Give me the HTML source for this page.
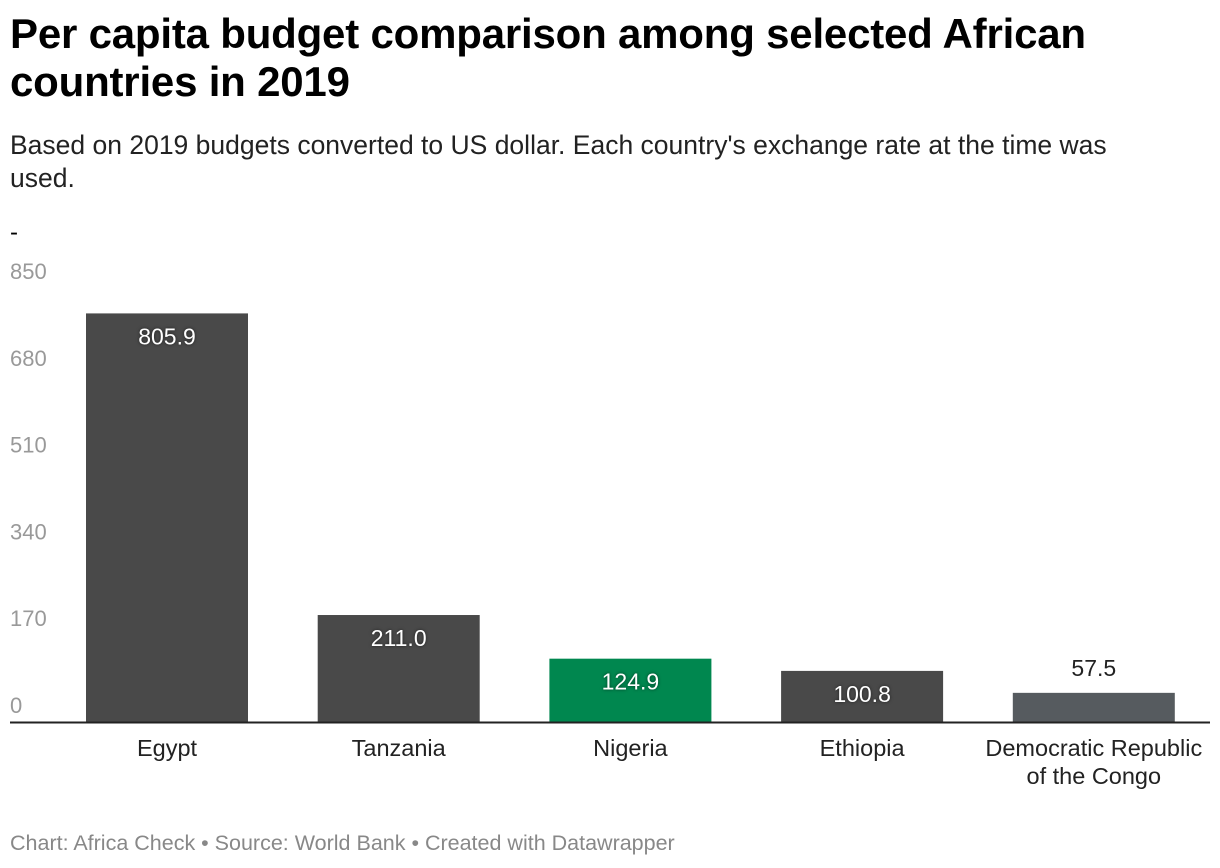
<!DOCTYPE html>
<html><head><meta charset="utf-8"><style>
body{margin:0;width:1220px;height:868px;background:#fff;font-family:"Liberation Sans",Roboto,sans-serif;position:relative;overflow:hidden}
h1{position:absolute;left:10px;top:10px;margin:0;font-size:42px;line-height:48px;font-weight:bold;color:#000;width:1190px;letter-spacing:-0.2px}
.sub{position:absolute;left:10px;top:129px;font-size:26.5px;line-height:33px;color:#222;width:1190px}
.foot{position:absolute;left:10px;top:831px;font-size:21.5px;color:#888}
svg text{font-family:"Liberation Sans",Roboto,sans-serif}
</style></head><body>
<h1>Per capita budget comparison among selected African countries in 2019</h1>
<div class="sub">Based on 2019 budgets converted to US dollar. Each country's exchange rate at the time was<br>used.</div>
<svg id="chart" width="1220" height="868" style="position:absolute;left:0;top:0">
<text x="10" y="240" font-size="24" fill="#000">-</text>
</svg>
<div class="foot">Chart: Africa Check • Source: World Bank • Created with Datawrapper</div>
<script>
const categories=["Egypt","Tanzania","Nigeria","Ethiopia","Democratic Republic|of the Congo"];
const values=[805.9,211.0,124.9,100.8,57.5];
const ticks=[0,170,340,510,680,850];
const colors=["#494949","#494949","#00874f","#494949","#565b5f"];
const svg=document.getElementById('chart');const NS='http://www.w3.org/2000/svg';
const base=722,scale=0.507,x0=86,step=231.7,bw=162;
const y=v=>base-v*scale;
function mk(t,a){const e=document.createElementNS(NS,t);for(const k in a)e.setAttribute(k,a[k]);svg.appendChild(e);return e;}
ticks.forEach((t,i)=>{const e=mk('text',{x:10,y:base-9-i*86.8,'font-size':22,fill:'#999'});e.textContent=t;

});
values.forEach((v,i)=>{const x=x0+i*step;const h=v*scale;
const r=mk('rect',{x:x,y:y(v),width:bw,height:h,fill:colors[i]});


const inside=h>40;
const l=mk('text',{x:x+bw/2,y:inside?y(v)+31:y(v)-17,'font-size':23,'text-anchor':'middle',fill:inside?'#fff':'#222'});
if(inside)l.setAttribute('style','text-shadow:0 0 3px rgba(0,0,0,.6)');
l.textContent=v.toFixed(1);


categories[i].split('|').forEach((s,j)=>{const c=mk('text',{x:x+bw/2,y:756+j*28,'font-size':23.5,'text-anchor':'middle',fill:'#222'});c.textContent=s;

});
});
const ax=mk('line',{x1:10,x2:1210,y1:base+0.5,y2:base+0.5,stroke:'#222','stroke-width':2});


</script>
</body></html>
